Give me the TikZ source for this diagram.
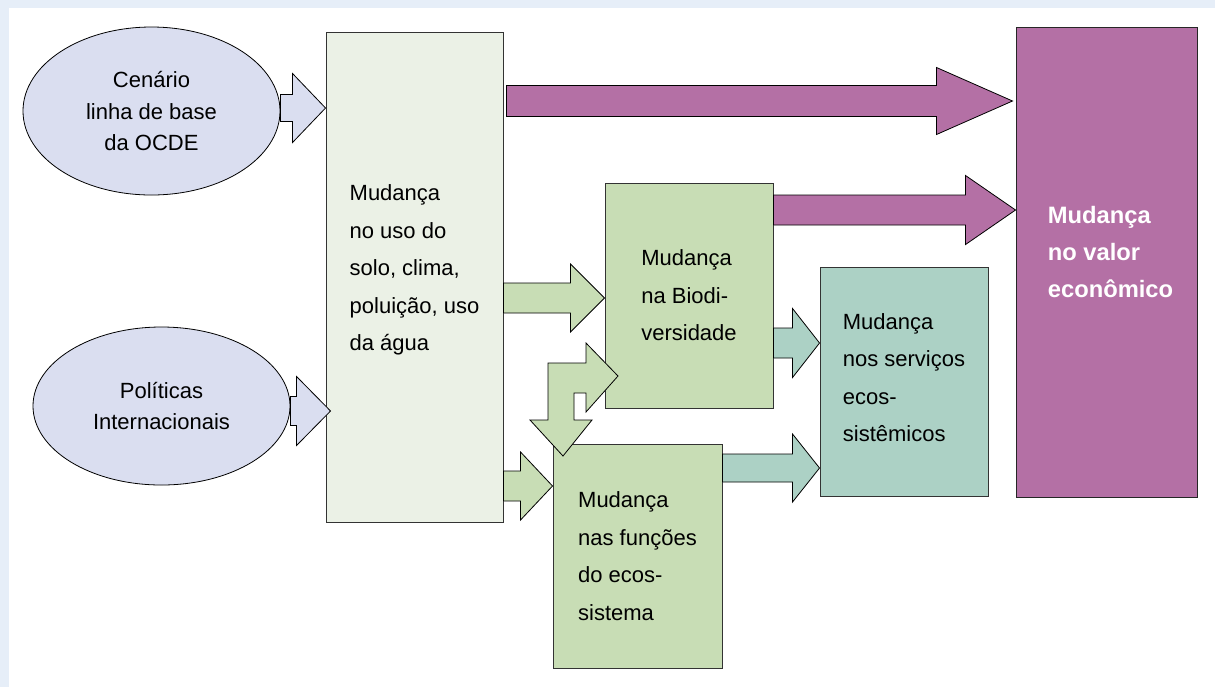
\documentclass[tikz,border=0pt]{standalone}
\usepackage{fontspec}
\setmainfont{Liberation Sans}
\usetikzlibrary{shapes.geometric,calc}
\definecolor{bgblue}{RGB}{230,238,248}
\definecolor{lav}{RGB}{218,222,240}
\definecolor{palegreen}{RGB}{235,241,230}
\definecolor{midgreen}{RGB}{200,221,181}
\definecolor{tealbox}{RGB}{172,209,197}
\definecolor{purp}{RGB}{180,112,165}
\newcommand\blockarrow[6]{%
  \path #2 coordinate (ba-s) #3 coordinate (ba-t);
  \draw[#1] let \p1=(ba-s), \p2=(ba-t) in
    (\x1,\y2+#4) -- (\x2-#6,\y2+#4) -- (\x2-#6,\y2+#5) -- (\x2,\y2)
    -- (\x2-#6,\y2-#5) -- (\x2-#6,\y2-#4) -- (\x1,\y2-#4) -- cycle;
}
\tikzset{
  bodytext/.style={font=\fontsize{16.5}{28.1}\selectfont, align=left, text=black},
  ell/.style={ellipse, draw=black, line width=0.6pt, fill=lav, inner sep=0pt,
    font=\fontsize{16.5}{23.6}\selectfont, align=center},
  boxA/.style={rectangle, draw=black!80, line width=0.7pt, inner sep=0pt, bodytext},
  arrlav/.style={draw=black, line width=0.6pt, fill=lav, line join=miter},
  arrgreen/.style={draw=black, line width=0.6pt, fill=midgreen, line join=miter},
  arrteal/.style={draw=black, line width=0.6pt, fill=tealbox, line join=miter},
  arrpurp/.style={draw=black, line width=0.6pt, fill=purp, line join=miter},
}
\begin{document}
\begin{tikzpicture}[x=0.75pt, y=-0.75pt]
\useasboundingbox (0,0) rectangle (1215,687);
\fill[bgblue] (0,0) rectangle (1215,687);
\fill[white] (9,8) rectangle (1215,687);

\node[ell, minimum width=192.75pt, minimum height=126pt] (e1) at (151.5,111)
  {Cenário\\linha de base\\da OCDE};
\node[ell, minimum width=192.75pt, minimum height=118.5pt] (e2) at (161.5,406)
  {Políticas\\Internacionais};

\node[boxA, fill=palegreen, minimum width=132.75pt, minimum height=367.5pt, text depth=14pt] (mid) at (414.5,277)
  {Mudança\\no uso do\\solo, clima,\\poluição, uso\\da água};
\node[boxA, fill=midgreen, minimum width=126pt, minimum height=168.75pt] (bio) at (689,295.5)
  {Mudança\\na Biodi-\\versidade};
\node[boxA, fill=tealbox, minimum width=126pt, minimum height=171.75pt, text depth=6pt] (serv) at (904,381.5)
  {Mudança\\nos serviços\\ecos-\\sistêmicos};
\node[boxA, fill=midgreen, minimum width=126.75pt, minimum height=168pt] (eco) at (637.5,556)
  {Mudança\\nas funções\\do ecos-\\sistema};
\node[rectangle, draw=black!85, line width=0.7pt, fill=purp, minimum width=135.75pt,
  minimum height=352.5pt] (val) at (1106.5,262) {};
\node[font=\bfseries\fontsize{17.8}{27.8}\selectfont, text=white, align=left]
  (valt) at ([xshift=3pt,yshift=7.5pt]val.center) {Mudança\\no valor\\econômico};

\blockarrow{arrlav}{(e1.east)}{(mid.west |- 0,108)}{10.125pt}{25.875pt}{24.75pt}
\blockarrow{arrlav}{(e2.east)}{($(mid.west |- 0,411)+(5,0)$)}{10.875pt}{25.875pt}{25.5pt}
\blockarrow{arrpurp}{($(mid.east)+(3,0)$)}{($(val.west |- 0,101)+(-3,0)$)}{11.625pt}{25.125pt}{57pt}
\blockarrow{arrpurp}{(bio.east)}{(val.west |- 0,210)}{11.25pt}{25.875pt}{37.5pt}
\blockarrow{arrgreen}{(mid.east)}{(bio.west |- 0,298)}{11.25pt}{25.5pt}{25.5pt}
\blockarrow{arrteal}{(bio.east)}{(serv.west |- 0,343)}{11.25pt}{25.875pt}{20.25pt}
\blockarrow{arrteal}{(eco.east)}{(serv.west |- 0,468)}{10.5pt}{25.5pt}{20.25pt}
\blockarrow{arrgreen}{(mid.east)}{(eco.west |- 0,486)}{11.25pt}{25.5pt}{24pt}

\draw[arrgreen] (618,376) -- (586,343) -- (586,363) -- (548,363) -- (548,420)
  -- (530,420) -- (563,456) -- (592,420) -- (574,420) -- (574,393)
  -- (586,393) -- (586,412) -- cycle;
\end{tikzpicture}
\end{document}
